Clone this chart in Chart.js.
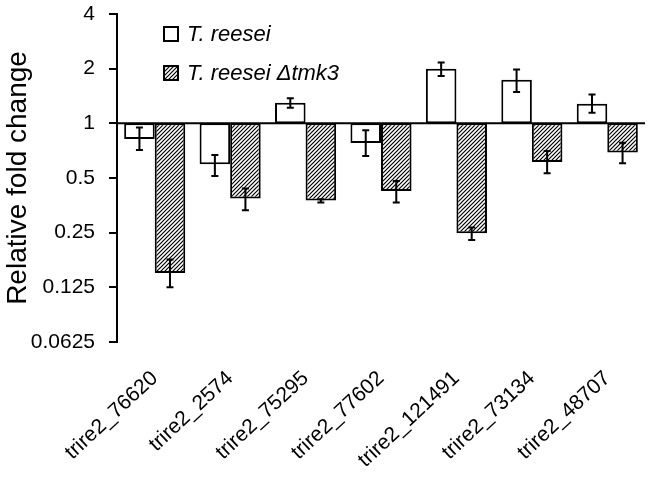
<!DOCTYPE html>
<html>
<head>
<meta charset="utf-8">
<script src="https://cdn.jsdelivr.net/npm/chart.js"></script>
<style>
  body { margin: 0; background: #fff; }
  #wrap { width: 652px; height: 479px; position: relative; }
</style>
</head>
<body>
<div id="wrap"><canvas id="foldChart"></canvas></div>
<script>
// genes on the x axis
const genes = ['trire2_76620', 'trire2_2574', 'trire2_75295', 'trire2_77602', 'trire2_121491', 'trire2_73134', 'trire2_48707'];
// relative fold change
const wildType = [0.82, 0.595, 1.30, 0.78, 2.0, 1.74, 1.28];
const wildTypeLow = [0.713, 0.513, 1.22, 0.661, 1.82, 1.49, 1.145];
const wildTypeHigh = [0.95, 0.669, 1.373, 0.915, 2.16, 1.98, 1.44];
const mutant = [0.15, 0.385, 0.376, 0.424, 0.248, 0.612, 0.69];
const mutantLow = [0.125, 0.332, 0.367, 0.366, 0.228, 0.531, 0.602];
const mutantHigh = [0.178, 0.437, 0.382, 0.481, 0.267, 0.704, 0.783];
const yTicks = [0.0625, 0.125, 0.25, 0.5, 1, 2, 4];
const seriesNames = ['T. reesei', 'T. reesei \u0394tmk3'];

// diagonal hatch fill
function makeHatch() {
    const s = 4;
    const c = document.createElement('canvas');
    c.width = s; c.height = s;
    const g = c.getContext('2d');
    g.fillStyle = '#fff';
    g.fillRect(0, 0, s, s);
    g.strokeStyle = '#000';
    g.lineWidth = 1.2;
    g.beginPath();
    g.moveTo(-1, s + 1); g.lineTo(s + 1, -1);
    g.moveTo(-1, 1); g.lineTo(1, -1);
    g.moveTo(s - 1, s + 1); g.lineTo(s + 1, s - 1);
    g.stroke();
    return document.getElementById('foldChart').getContext('2d').createPattern(c, 'repeat');
}
const hatch = makeHatch();

const errorBars = {
    id: 'errorBars',
    afterDatasetsDraw(chart) {
        const ctx = chart.ctx;
        const y = chart.scales.y;
        const lows = [wildTypeLow, mutantLow];
        const highs = [wildTypeHigh, mutantHigh];
        ctx.save();
        ctx.strokeStyle = '#000';
        ctx.lineWidth = 2;
        // baseline at 1
        const yb = y.getPixelForValue(1);
        ctx.beginPath();
        ctx.moveTo(chart.chartArea.left, yb);
        ctx.lineTo(chart.chartArea.right, yb);
        ctx.stroke();
        chart.data.datasets.forEach((ds, di) => {
            chart.getDatasetMeta(di).data.forEach((bar, i) => {
                const y1 = y.getPixelForValue(lows[di][i]);
                const y2 = y.getPixelForValue(highs[di][i]);
                ctx.beginPath();
                ctx.moveTo(bar.x, y1); ctx.lineTo(bar.x, y2);
                ctx.moveTo(bar.x - 3.5, y1); ctx.lineTo(bar.x + 3.5, y1);
                ctx.moveTo(bar.x - 3.5, y2); ctx.lineTo(bar.x + 3.5, y2);
                ctx.stroke();
            });
        });
        ctx.restore();
    }
};

const boxLegend = {
    id: 'boxLegend',
    afterDraw(chart) {
        const ctx = chart.ctx;
        const fills = ['#fff', hatch];
        const rows = [34, 73];
        ctx.save();
        ctx.font = 'italic 22px "Liberation Sans", Arial, sans-serif';
        ctx.textBaseline = 'middle';
        rows.forEach((ry, i) => {
            ctx.fillStyle = fills[i];
            ctx.fillRect(164, ry - 7, 14, 14);
            ctx.strokeStyle = '#000';
            ctx.lineWidth = 2;
            ctx.strokeRect(164, ry - 7, 14, 14);
            ctx.fillStyle = '#000';
            ctx.fillText(seriesNames[i], 187, ry + 1);
        });
        ctx.restore();
    }
};

new Chart(document.getElementById('foldChart'), {
    type: 'bar',
    data: {
        labels: genes,
        datasets: [{
            label: seriesNames[0],
            data: wildType.map(v => [1, v]),
            backgroundColor: '#fff',
            borderColor: '#000',
            borderWidth: 2,
            borderSkipped: false
        }, {
            label: seriesNames[1],
            data: mutant.map(v => [1, v]),
            backgroundColor: hatch,
            borderColor: '#000',
            borderWidth: 2,
            borderSkipped: false
        }]
    },
    options: {
        responsive: true,
        maintainAspectRatio: false,
        animation: false,
        layout: { padding: { top: 14, right: 7, left: 0, bottom: 0 } },
        datasets: { bar: { categoryPercentage: 0.81, barPercentage: 1 } },
        plugins: {
            legend: { display: false },
            tooltip: { enabled: false }
        },
        scales: {
            x: {
                grid: { display: false },
                border: { display: false },
                ticks: {
                    color: '#000',
                    font: { size: 21, family: '"Liberation Sans", Arial, sans-serif' },
                    minRotation: 43,
                    maxRotation: 43,
                    padding: 16
                },
                afterFit(s) { s.height = 137; }
            },
            y: {
                type: 'logarithmic',
                min: 0.0625,
                max: 4,
                afterBuildTicks(s) { s.ticks = yTicks.map(v => ({ value: v })); },
                grid: { drawOnChartArea: false, drawTicks: true, tickLength: 8, color: '#000', lineWidth: 2 },
                border: { display: true, color: '#000', width: 2 },
                ticks: {
                    color: '#000',
                    padding: 14,
                    font: { size: 21, family: '"Liberation Sans", Arial, sans-serif' },
                    callback: v => String(v)
                },
                title: {
                    display: true,
                    text: 'Relative fold change',
                    color: '#000',
                    padding: { top: 1, bottom: 2 },
                    font: { size: 28, family: '"Liberation Sans", Arial, sans-serif' }
                },
                afterFit(s) {
                    s.width = 117;
                    s.paddingTop = 0;
                    s.paddingBottom = 0;
                }
            }
        }
    },
    plugins: [errorBars, boxLegend]
});
</script>
</body>
</html>
